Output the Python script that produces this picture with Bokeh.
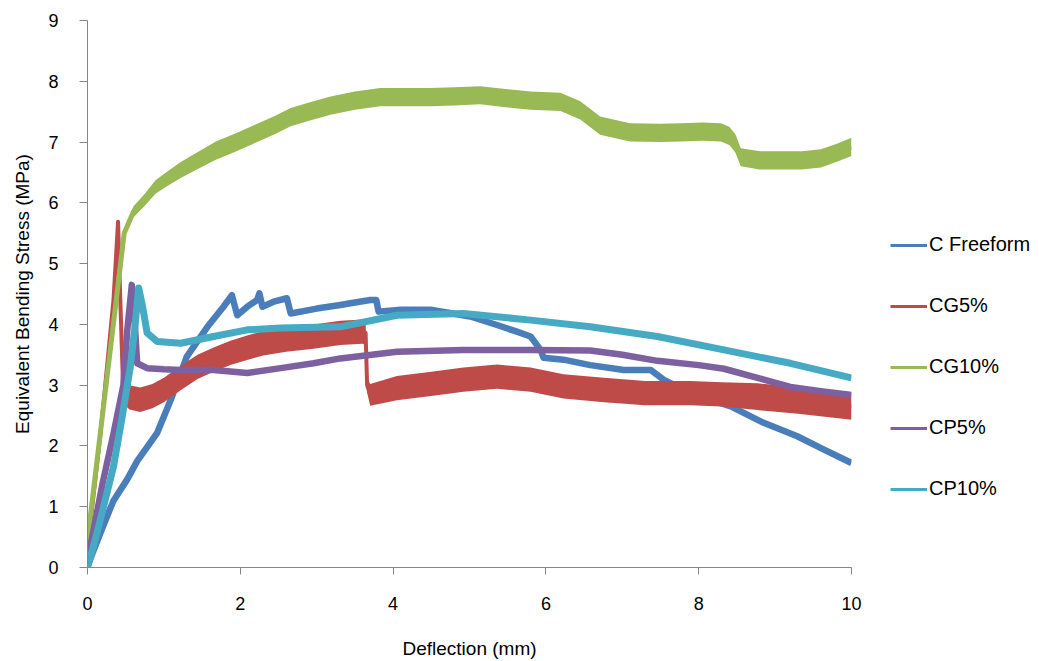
import numpy as np
from bokeh.plotting import figure
from bokeh.layouts import row
from bokeh.models import Range1d, Legend, LegendItem, FixedTicker
from bokeh.embed import file_html
from bokeh.resources import INLINE

# ---- data ----
series_names = ["C Freeform", "CG5%", "CG10%", "CP5%", "CP10%"]
series_colors = ["#4A7EBB", "#BE4B48", "#98B954", "#7D60A0", "#46AAC5"]

cf_x = [0, 0.1, 0.21, 0.34, 0.52, 0.65, 0.91, 1.09, 1.3, 1.57, 1.78, 1.89, 1.96, 2.1, 2.22, 2.25,
        2.29, 2.45, 2.61, 2.66, 3.0, 3.31, 3.5, 3.7, 3.78, 3.81, 4.1, 4.49, 5.01, 5.36, 5.62, 5.8,
        5.93, 5.97, 6.23, 6.58, 7.02, 7.37, 7.54, 7.89, 8.42, 8.85, 9.29, 9.64, 10.0]
cf_y = [0.02, 0.35, 0.7, 1.1, 1.45, 1.75, 2.21, 2.76, 3.47, 3.96, 4.29, 4.48, 4.15, 4.3, 4.4, 4.51,
        4.29, 4.38, 4.43, 4.18, 4.26, 4.32, 4.36, 4.4, 4.4, 4.21, 4.24, 4.24, 4.13, 3.99, 3.88, 3.8,
        3.58, 3.45, 3.42, 3.33, 3.25, 3.25, 3.09, 2.87, 2.65, 2.38, 2.16, 1.94, 1.72]

cg5_x = [0, 0.17, 0.34, 0.4, 0.42, 0.45, 0.47, 0.55, 0.69, 0.85, 1.0, 1.2, 1.44, 1.65, 1.87, 2.1,
         2.3, 2.6, 2.96, 3.31, 3.6, 3.64, 3.66, 3.7, 4.05, 4.5, 4.92, 5.36, 5.8, 6.23, 6.76, 7.3,
         7.89, 8.3, 8.77, 9.3, 10.0]
cg5_y = [0.3, 2.2, 4.4, 5.69, 4.8, 3.58, 2.81, 2.8, 2.76, 2.82, 2.92, 3.1, 3.3, 3.42, 3.53, 3.62,
         3.69, 3.75, 3.8, 3.86, 3.88, 3.86, 3.0, 2.84, 2.95, 3.02, 3.09, 3.14, 3.09, 2.98, 2.92, 2.87,
         2.87, 2.85, 2.81, 2.75, 2.65]
cg5_noise = [0, 0, 0, 0, 0, 0, 0.12, 0.2, 0.2, 0.2, 0.2, 0.2, 0.2, 0.2, 0.2, 0.2,
             0.2, 0.2, 0.2, 0.2, 0.2, 0.2, 0.12, 0.18, 0.2, 0.2, 0.2, 0.2, 0.2, 0.2, 0.2, 0.2,
             0.2, 0.2, 0.22, 0.22, 0.22]

cg10_x = [0, 0.1, 0.2, 0.3, 0.4, 0.48, 0.6, 0.75, 0.89, 1.05, 1.22, 1.45, 1.68, 1.95, 2.2, 2.45,
          2.66, 2.9, 3.18, 3.5, 3.83, 4.15, 4.49, 4.8, 5.14, 5.5, 5.8, 6.19, 6.45, 6.71, 7.1, 7.5,
          7.76, 8.05, 8.29, 8.4, 8.48, 8.55, 8.8, 9.07, 9.35, 9.6, 9.8, 10.0]
cg10_y = [0.45, 1.5, 2.55, 3.6, 4.65, 5.5, 5.85, 6.05, 6.26, 6.4, 6.54, 6.7, 6.86, 7.0, 7.14, 7.28,
          7.41, 7.5, 7.6, 7.68, 7.74, 7.74, 7.74, 7.75, 7.77, 7.72, 7.68, 7.66, 7.52, 7.27, 7.16, 7.15,
          7.16, 7.17, 7.16, 7.1, 6.98, 6.75, 6.7, 6.7, 6.7, 6.73, 6.82, 6.92]
cg10_noise = [0, 0, 0, 0, 0, 0.06, 0.09, 0.1, 0.11, 0.12, 0.13, 0.14, 0.15, 0.15, 0.15, 0.15,
              0.15, 0.15, 0.15, 0.15, 0.15, 0.15, 0.15, 0.15, 0.15, 0.15, 0.15, 0.15, 0.15, 0.15, 0.15, 0.15,
              0.15, 0.15, 0.15, 0.15, 0.15, 0.15, 0.15, 0.15, 0.15, 0.15, 0.15, 0.15]

cp5_x = [0, 0.1, 0.2, 0.34, 0.47, 0.52, 0.58, 0.61, 0.65, 0.78, 1.0, 1.22, 1.65, 2.09, 2.53, 2.96,
         3.31, 4.05, 4.92, 5.8, 6.58, 7.0, 7.46, 8.0, 8.33, 8.77, 9.2, 9.6, 10.0]
cp5_y = [0.1, 0.75, 1.4, 2.2, 3.0, 3.9, 4.65, 4.2, 3.36, 3.28, 3.26, 3.25, 3.25, 3.2, 3.28, 3.36,
         3.44, 3.55, 3.58, 3.58, 3.57, 3.5, 3.4, 3.33, 3.27, 3.12, 2.97, 2.9, 2.84]

cp10_x = [0, 0.1, 0.2, 0.34, 0.45, 0.56, 0.62, 0.67, 0.72, 0.78, 0.91, 1.22, 1.65, 2.09, 2.53, 3.31,
          4.05, 4.92, 5.8, 6.58, 7.46, 8.33, 9.2, 10.0]
cp10_y = [0, 0.45, 0.95, 1.66, 2.45, 3.3, 3.95, 4.6, 4.3, 3.86, 3.72, 3.69, 3.8, 3.91, 3.94, 3.96,
          4.15, 4.18, 4.07, 3.96, 3.8, 3.58, 3.36, 3.12]

x_ticks = [0, 2, 4, 6, 8, 10]
y_ticks = [0, 1, 2, 3, 4, 5, 6, 7, 8, 9]

FONT = "Liberation Sans"
MAIN_W, H = 870, 661
LEG_W = 1039 - MAIN_W

p = figure(width=MAIN_W, height=H, output_backend="svg", toolbar_location=None,
           x_range=Range1d(0, 10), y_range=Range1d(0, 9),
           min_border_left=87, min_border_right=19, min_border_top=20, min_border_bottom=94)
p.outline_line_color = None
p.xgrid.visible = False
p.ygrid.visible = False
p.background_fill_color = "white"
p.border_fill_color = "white"

p.xaxis.ticker = FixedTicker(ticks=x_ticks)
p.yaxis.ticker = FixedTicker(ticks=y_ticks)
for ax in (p.xaxis, p.yaxis):
    ax.axis_line_color = "#868686"
    ax.major_tick_line_color = "#868686"
    ax.major_tick_in = 0
    ax.minor_tick_in = 0
    ax.minor_tick_out = 0
    ax.major_label_text_font = FONT
    ax.major_label_text_font_size = "18px"
    ax.major_label_text_color = "black"
    ax.axis_label_text_font = FONT
    ax.axis_label_text_font_size = "19px"
    ax.axis_label_text_font_style = "normal"
    ax.axis_label_text_color = "black"
p.xaxis.major_tick_out = 7
p.yaxis.major_tick_out = 8
p.xaxis.major_label_standoff = 22
p.yaxis.major_label_standoff = 21
p.xaxis.axis_label = "Deflection (mm)"
p.yaxis.axis_label = "Equivalent Bending Stress (MPa)"
p.xaxis.axis_label_standoff = 25
p.yaxis.axis_label_standoff = 12

# C Freeform
p.line(cf_x, cf_y, line_color=series_colors[0], line_width=6.5, line_join="round")
# CG5%
cg5 = np.array(cg5_y); cg5n = np.array(cg5_noise)
p.varea(x=cg5_x, y1=cg5 - cg5n, y2=cg5 + cg5n, fill_color=series_colors[1])
p.line(cg5_x, cg5_y, line_color=series_colors[1], line_width=4, line_join="round")
# CG10%
cg10 = np.array(cg10_y); cg10n = np.array(cg10_noise)
p.varea(x=cg10_x, y1=cg10 - cg10n, y2=cg10 + cg10n, fill_color=series_colors[2])
p.line(cg10_x, cg10_y, line_color=series_colors[2], line_width=5, line_join="round")
# CP5%
p.line(cp5_x, cp5_y, line_color=series_colors[3], line_width=6.5, line_join="round")
# CP10%
p.line(cp10_x, cp10_y, line_color=series_colors[4], line_width=7, line_join="round")

# legend panel: a second, axis-less figure to the right of the chart
lp = figure(width=LEG_W, height=H, output_backend="svg", toolbar_location=None,
            x_range=Range1d(0, 1), y_range=Range1d(0, 1),
            min_border_left=0, min_border_right=0, min_border_top=0, min_border_bottom=0,
            x_axis_location=None, y_axis_location=None)
lp.outline_line_color = None
lp.xgrid.visible = False
lp.ygrid.visible = False
lp.background_fill_color = "white"
lp.border_fill_color = "white"

items = []
for name, col in zip(series_names, series_colors):
    r = lp.line(x=[np.nan, np.nan], y=[np.nan, np.nan], line_color=col, line_width=3)
    items.append(LegendItem(label=name, renderers=[r]))

legend = Legend(items=items, location=(20, 67), orientation="vertical",
                glyph_width=37, glyph_height=20, label_height=20, spacing=38,
                padding=0, margin=0, label_standoff=2,
                border_line_alpha=0, background_fill_alpha=0,
                label_text_font=FONT, label_text_font_size="20px", label_text_color="black")
lp.add_layout(legend)

layout = row(p, lp, spacing=0)
open("out.html", "w").write(file_html(layout, INLINE))
